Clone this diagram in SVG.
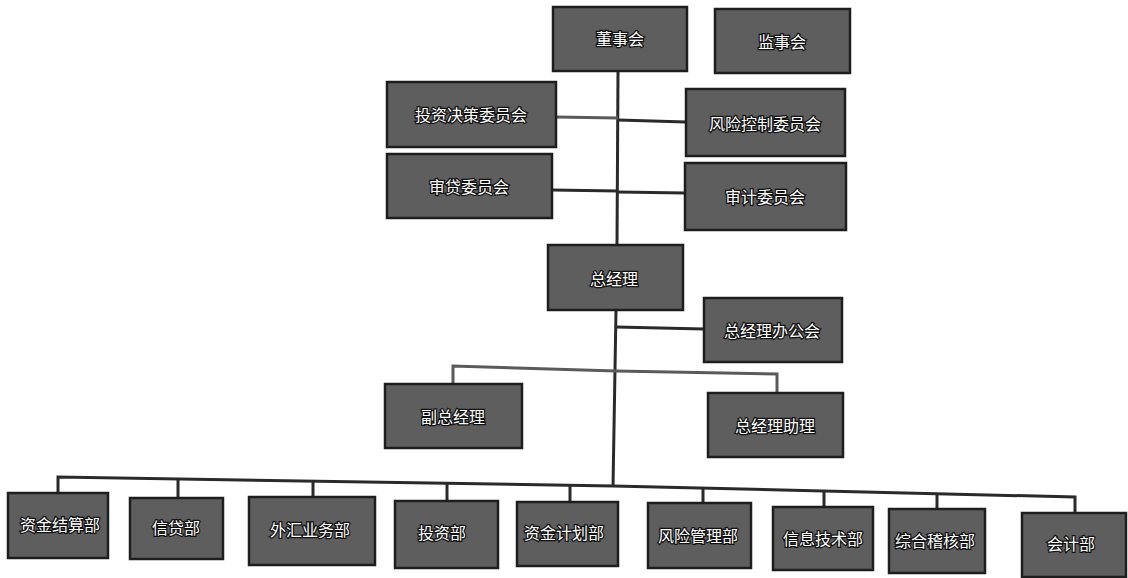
<svg xmlns="http://www.w3.org/2000/svg" width="1128" height="578" viewBox="0 0 1128 578">
<style>
.box{fill:#5e5e5e;stroke:#1e1e1e;stroke-width:2.5}
.lbl{font-family:"Noto Sans CJK SC","Noto Sans",sans-serif;font-size:16px;fill:#ffffff;stroke:#111111;stroke-width:2.5;paint-order:stroke;text-anchor:middle;dominant-baseline:central}
.ln{stroke:#2a2a2a;stroke-width:3;fill:none}
.ln2{stroke:#5a5a5a;stroke-width:3;fill:none}
</style>
<rect width="1128" height="578" fill="#ffffff"/>
<g id="connectors">
<line class="ln" x1="618" y1="71" x2="617" y2="245"/>
<line class="ln2" x1="556" y1="117" x2="618" y2="118"/>
<line class="ln" x1="618" y1="120" x2="686" y2="122"/>
<line class="ln" x1="552" y1="190" x2="618" y2="191"/>
<line class="ln" x1="618" y1="192" x2="685" y2="193"/>
<line class="ln" x1="616" y1="310" x2="613" y2="487"/>
<line class="ln" x1="616" y1="327" x2="704" y2="329"/>
<polyline class="ln2" points="453,384 453,366 616,371 777,374 777,393"/>
<polyline class="ln" points="58,493 58,477 613,486 1075,497 1075,513"/>
<line class="ln" x1="178" y1="479" x2="178" y2="498"/>
<line class="ln" x1="313" y1="482" x2="313" y2="497"/>
<line class="ln" x1="447" y1="484" x2="447" y2="501"/>
<line class="ln" x1="570" y1="486" x2="570" y2="502"/>
<line class="ln" x1="703" y1="488" x2="703" y2="503"/>
<line class="ln" x1="824" y1="491" x2="824" y2="507"/>
<line class="ln" x1="937" y1="494" x2="937" y2="509"/>
</g>
<g id="n_dongshihui"><rect class="box" x="553" y="7" width="134" height="64"/><text class="lbl" x="620" y="38">董事会</text></g>
<g id="n_jianshihui"><rect class="box" x="715" y="9" width="135" height="64"/><text class="lbl" x="782" y="41">监事会</text></g>
<g id="n_touzi_weiyuanhui"><rect class="box" x="387" y="82" width="169" height="65"/><text class="lbl" x="471" y="114">投资决策委员会</text></g>
<g id="n_fengxian_weiyuanhui"><rect class="box" x="686" y="89" width="159" height="67"/><text class="lbl" x="765" y="123">风险控制委员会</text></g>
<g id="n_shendai"><rect class="box" x="387" y="154" width="165" height="64"/><text class="lbl" x="469" y="186">审贷委员会</text></g>
<g id="n_shenji"><rect class="box" x="685" y="163" width="161" height="67"/><text class="lbl" x="765" y="196">审计委员会</text></g>
<g id="n_zongjingli"><rect class="box" x="548" y="245" width="135" height="65"/><text class="lbl" x="614" y="278">总经理</text></g>
<g id="n_bangonghui"><rect class="box" x="704" y="298" width="138" height="64"/><text class="lbl" x="772" y="330">总经理办公会</text></g>
<g id="n_fuzong"><rect class="box" x="385" y="384" width="137" height="64"/><text class="lbl" x="453" y="416">副总经理</text></g>
<g id="n_zhuli"><rect class="box" x="708" y="393" width="135" height="64"/><text class="lbl" x="775" y="425">总经理助理</text></g>
<g id="n_jiesuan"><rect class="box" x="8" y="493" width="100" height="65"/><text class="lbl" x="60" y="524">资金结算部</text></g>
<g id="n_xindai"><rect class="box" x="130" y="498" width="93" height="61"/><text class="lbl" x="176" y="527">信贷部</text></g>
<g id="n_waihui"><rect class="box" x="249" y="497" width="126" height="68"/><text class="lbl" x="310" y="529">外汇业务部</text></g>
<g id="n_touzibu"><rect class="box" x="395" y="501" width="103" height="67"/><text class="lbl" x="442" y="532">投资部</text></g>
<g id="n_jihua"><rect class="box" x="517" y="502" width="101" height="64"/><text class="lbl" x="564" y="532">资金计划部</text></g>
<g id="n_fengxianbu"><rect class="box" x="648" y="503" width="103" height="65"/><text class="lbl" x="698" y="535">风险管理部</text></g>
<g id="n_xinxi"><rect class="box" x="773" y="507" width="100" height="63"/><text class="lbl" x="823" y="538">信息技术部</text></g>
<g id="n_jihe"><rect class="box" x="889" y="509" width="96" height="64"/><text class="lbl" x="935" y="540">综合稽核部</text></g>
<g id="n_kuaiji"><rect class="box" x="1022" y="513" width="104" height="64"/><text class="lbl" x="1071" y="543">会计部</text></g>
</svg>
